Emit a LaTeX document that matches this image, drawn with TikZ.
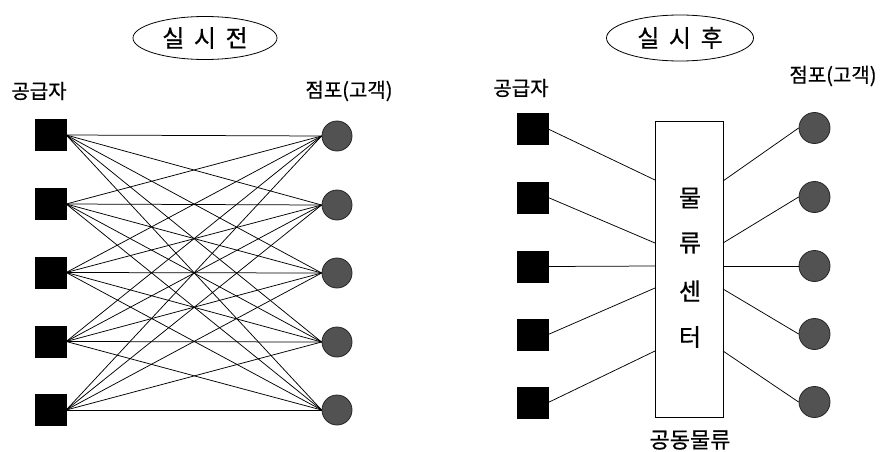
\documentclass[tikz,border=0pt]{standalone}
\usepackage{fontspec}
\setmainfont{Noto Sans CJK KR}[FakeBold=0.6]
\usetikzlibrary{shapes.geometric}
\begin{document}
\begin{tikzpicture}[x=1pt,y=-1pt,
  sup/.style={draw=black,fill=black,minimum size=31pt,inner sep=0pt},
  shop/.style={circle,draw=black!85,line width=0.8pt,fill=black!68,minimum size=30pt,inner sep=0pt},
  link/.style={line width=0.75pt},
  lbl/.style={font=\fontsize{20}{20}\selectfont,inner sep=0pt},
  title/.style={ellipse,draw,line width=0.8pt,inner sep=0pt,font=\fontsize{24}{24}\selectfont},
  ctr/.style={font=\fontsize{24}{24}\selectfont,inner sep=0pt}]
\useasboundingbox (0,0) rectangle (886,452);
\fill[white] (0,0) rectangle (886,452);
% ---- left panel ----
\node[title,minimum width=144pt,minimum height=43pt] (t1) at (205,38) {실\hspace{0.4em}시\hspace{0.4em}전};
\node[lbl] (s1lab) at (39,91) {공급자};
\node[lbl] (c1lab) at (349,91) {점포(고객)};
\foreach \i/\y in {1/135,2/204,3/272.5,4/341.5,5/410}{
  \node[sup] (a\i) at (50.5,\y) {};
}
\foreach \i/\y in {1/136,2/205,3/273,4/342,5/410}{
  \node[shop] (b\i) at (337,\y) {};
}
\foreach \i in {1,...,5}{
  \foreach \j in {1,...,5}{
    \draw[link] (a\i.east) -- (b\j.west);
  }
}
% ---- right panel ----
\node[title,minimum width=147pt,minimum height=46pt] (t2) at (680,38) {실\hspace{0.4em}시\hspace{0.4em}후};
\node[lbl] (s2lab) at (521,88) {공급자};
\node[lbl] (c2lab) at (833,76) {점포(고객)};
\node[draw,line width=0.8pt,minimum width=68pt,minimum height=296pt,inner sep=0pt] (dc) at (689,269) {};
\node[ctr] (m1) at (690,198) {물};
\node[ctr] (m2) at (690,243) {류};
\node[ctr] (m3) at (690,291) {센};
\node[ctr] (m4) at (690,337) {터};
\node[lbl,font=\fontsize{22}{22}\selectfont] (dclab) at (690,440) {공동물류};
\foreach \i/\y in {1/129,2/197.5,3/266.5,4/334.5,5/402.5}{
  \node[sup] (p\i) at (532.5,\y) {};
}
\foreach \i/\y in {1/128,2/197,3/266,4/334,5/402}{
  \node[shop,minimum size=31pt] (q\i) at (814.5,\y) {};
}
\foreach \i/\y in {1/180,2/243,3/266,4/288,5/351}{
  \coordinate (l\i) at (655,\y);
}
\foreach \i/\y in {1/181,2/243,3/266,4/289,5/351}{
  \coordinate (r\i) at (723,\y);
}
\foreach \i in {1,...,5}{
  \draw[link] (p\i.east) -- (l\i);
  \draw[link] (r\i) -- (q\i.west);
}
\end{tikzpicture}
\end{document}
